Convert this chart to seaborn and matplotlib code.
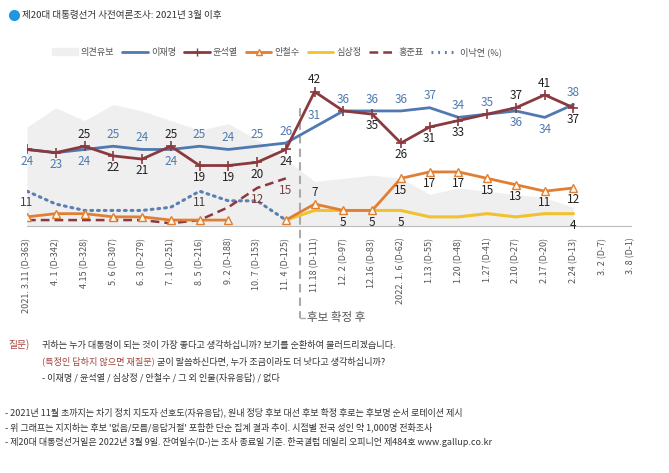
import matplotlib.pyplot as plt
import matplotlib.lines as mlines
import matplotlib.patches as mpatches
import seaborn as sns
import pandas as pd
import numpy as np

sns.set_style("white")
plt.rcParams['font.family'] = ['Noto Sans CJK KR', 'DejaVu Sans']

nan = np.nan
dates = ["2021. 3.11 (D-363)", "4. 1 (D-342)", "4.15 (D-328)", "5. 6 (D-307)", "6. 3 (D-279)",
         "7. 1 (D-251)", "8. 5 (D-216)", "9. 2 (D-188)", "10. 7 (D-153)", "11. 4 (D-125)",
         "11.18 (D-111)", "12. 2 (D-97)", "12.16 (D-83)", "2022. 1. 6 (D-62)", "1.13 (D-55)",
         "1.20 (D-48)", "1.27 (D-41)", "2.10 (D-27)", "2.17 (D-20)", "2.24 (D-13)",
         "3. 2 (D-7)", "3. 8 (D-1)"]
undecided = [31, 37, 33, 38, 36, 33, 30, 32, 27, 21, 14, 15, 16, 15, 10, 12, 11, 10, 9, 6, nan, nan]
lee_jm = [24, 23, 24, 25, 24, 24, 25, 24, 25, 26, 31, 36, 36, 36, 37, 34, 35, 36, 34, 38, nan, nan]
yoon = [24, 23, 25, 22, 21, 25, 19, 19, 20, 24, 42, 36, 35, 26, 31, 33, 35, 37, 41, 37, nan, nan]
ahn = [3, 4, 4, 3, 3, 2, 2, 2, nan, 2, 7, 5, 5, 15, 17, 17, 15, 13, 11, 12, nan, nan]
sim = [nan] * 9 + [2, 5, 5, 5, 5, 3, 3, 4, 3, 4, 4, nan, nan]
hong = [2, 2, 2, 2, 2, 1, 2, 6, 12, 15] + [nan] * 12
lee_ny = [11, 7, 5, 5, 5, 6, 11, 8, 8, 2] + [nan] * 12

# which points get a value label: a = above, b = below
lee_jm_lab = list("bbbaabaaaaaaaaaaabba") + ["", ""]
yoon_lab = ["", "", "a", "b", "b", "a", "b", "b", "b", "b", "a", "", "b", "b", "b", "b", "", "a", "a", "b", "", ""]
ahn_lab = [""] * 10 + ["a", "b", "b", "b", "b", "b", "b", "b", "b", "b", "", ""]
sim_lab = [""] * 13 + ["b", "", "", "", "", "", "b", "", ""]
hong_lab = [""] * 8 + ["b", "b"] + [""] * 12
lee_ny_lab = ["b", "", "", "", "", "", "b"] + [""] * 15

df = pd.DataFrame({'x': np.arange(len(dates)), 'undecided': undecided, 'lee_jm': lee_jm,
                   'yoon': yoon, 'ahn': ahn, 'sim': sim, 'hong': hong, 'lee_ny': lee_ny})

c_blue = '#4f79b0'
c_red = '#8a3a3f'
c_orange = '#e07f34'
c_yellow = '#f2c12e'
c_gray = '#efefef'
c_dot = '#5b7fb0'

fig = plt.figure(figsize=(6.69, 4.73), dpi=100)
ax = fig.add_axes([27 / 669, (473 - 226.5) / 473, 604 / 669, 160.5 / 473])

ax.fill_between(df['x'], df['undecided'], color=c_gray, lw=0, zorder=0)

sns.lineplot(data=df, x='x', y='lee_ny', ax=ax, color=c_dot, lw=2.2, linestyle=(0, (0.6, 1.6)),
             dash_capstyle='round', zorder=2)
sns.lineplot(data=df, x='x', y='hong', ax=ax, color=c_red, lw=1.8, linestyle=(0, (3.5, 2)), zorder=2)
sns.lineplot(data=df, x='x', y='sim', ax=ax, color=c_yellow, lw=2.2, zorder=3)
early = df[df['x'] < 8]
late = df[df['x'] > 8]
for part in (early, late):
    sns.lineplot(data=part, x='x', y='ahn', ax=ax, color=c_orange, lw=2, marker='^',
                 markersize=6, markerfacecolor='#fff8e8', markeredgecolor=c_orange,
                 markeredgewidth=1, zorder=4)
sns.lineplot(data=df, x='x', y='lee_jm', ax=ax, color=c_blue, lw=2, zorder=5)
sns.lineplot(data=df, x='x', y='yoon', ax=ax, color=c_red, lw=2, marker='+', markersize=7,
             markeredgewidth=1.2, markeredgecolor=c_red, zorder=6)


def put_labels(vals, where, color):
    for i, (v, w) in enumerate(zip(vals, where)):
        if not w:
            continue
        dy = 8.5 if w == 'a' else -8.5
        ax.annotate(f"{v:g}", (i, v), xytext=(0, dy), textcoords='offset points',
                    ha='center', va='center', fontsize=8.5, color=color, zorder=10)


put_labels(lee_jm, lee_jm_lab, c_blue)
put_labels(yoon, yoon_lab, '#222222')
put_labels(ahn, ahn_lab, '#222222')
put_labels(sim, sim_lab, '#222222')
put_labels(hong, hong_lab, '#7a4048')
put_labels(lee_ny, lee_ny_lab, '#444444')

ax.set_xlim(0, len(dates) - 1)
ax.set_ylim(0, 50)
ax.set_xticks(df['x'])
ax.set_xticklabels(dates, rotation=90, fontsize=6.5, color='#555555')
ax.set_yticks([])
ax.set_xlabel('')
ax.set_ylabel('')
for s in ['left', 'top', 'right']:
    ax.spines[s].set_visible(False)
ax.spines['bottom'].set_color('#bbbbbb')
ax.tick_params(axis='x', length=5, color='#bbbbbb', pad=3)

# candidate confirmation marker
tr = ax.get_xaxis_transform()
ax.plot([9.5, 9.5], [0.74, -0.57], transform=tr, clip_on=False, color='#aaaaaa', lw=1.5,
        linestyle=(0, (4, 2.5)), zorder=1)
ax.plot([9.5, 9.65], [-0.57, -0.57], transform=tr, clip_on=False, color='#aaaaaa', lw=1)
ax.text(9.72, -0.57, '후보 확정 후', transform=tr, fontsize=8.3, color='#555555', va='center', ha='left')

# title
fig.add_artist(mlines.Line2D([13.5 / 669], [1 - 15.5 / 473], marker='o', markersize=7,
                             color='#1f97dc', transform=fig.transFigure))
fig.text(22 / 669, 1 - 15.5 / 473, '제20대 대통령선거 사전여론조사: 2021년 3월 이후', fontsize=6.9,
         color='#333333', va='center', ha='left')

handles = [
    mpatches.Patch(color=c_gray),
    mlines.Line2D([], [], color=c_blue, lw=2),
    mlines.Line2D([], [], color=c_red, lw=2, marker='+', markersize=6),
    mlines.Line2D([], [], color=c_orange, lw=2, marker='^', markersize=4,
                  markerfacecolor='#fff8e8'),
    mlines.Line2D([], [], color=c_yellow, lw=2),
    mlines.Line2D([], [], color=c_red, lw=1.8, linestyle=(0, (3.5, 2))),
    mlines.Line2D([], [], color=c_dot, lw=2.2, linestyle=(0, (0.6, 1.6))),
]
names = ['의견유보', '이재명', '윤석열', '안철수', '심상정', '홍준표', '이낙연 (%)']
fig.legend(handles, names, loc='center', bbox_to_anchor=(277 / 669, 1 - 52 / 473), ncol=7,
           frameon=False, fontsize=6.6, handlelength=2.8, columnspacing=0.85, handletextpad=0.35,
           labelcolor='#555555')

# question and notes
red_txt = '#a5443c'
fs_q = 6.6
fig.text(8 / 669, 1 - 345 / 473, '질문)', fontsize=fs_q + 0.4, color=red_txt, va='center')
fig.text(42 / 669, 1 - 345 / 473, '귀하는 누가 대통령이 되는 것이 가장 좋다고 생각하십니까? 보기를 순환하여 불러드리겠습니다.',
         fontsize=fs_q, color='#333333', va='center')
t = fig.text(42 / 669, 1 - 361 / 473, '(특정인 답하지 않으면 재질문)', fontsize=fs_q, color=red_txt, va='center')
fig.canvas.draw()
x_end = t.get_window_extent().x1
fig.text((x_end + 2) / 669, 1 - 361 / 473, '굳이 말씀하신다면, 누가 조금이라도 더 낫다고 생각하십니까?',
         fontsize=fs_q, color='#333333', va='center')
fig.text(42 / 669, 1 - 377 / 473, '- 이재명 / 윤석열 / 심상정 / 안철수 / 그 외 인물(자유응답) / 없다',
         fontsize=fs_q, color='#333333', va='center')

notes = [
    '- 2021년 11월 초까지는 차기 정치 지도자 선호도(자유응답), 원내 정당 후보 대선 후보 확정 후로는 후보명 순서 로테이션 제시',
    "- 위 그래프는 지지하는 후보 '없음/모름/응답거절' 포함한 단순 집계 결과 추이. 시점별 전국 성인 약 1,000명 전화조사",
    '- 제20대 대통령선거일은 2022년 3월 9일. 잔여일수(D-)는 조사 종료일 기준. 한국갤럽 데일리 오피니언 제484호 www.gallup.co.kr',
]
for k, line in enumerate(notes):
    fig.text(5 / 669, 1 - (412 + 15 * k) / 473, line, fontsize=6.5, color='#333333', va='center')

fig.savefig('out.png', dpi=100)
